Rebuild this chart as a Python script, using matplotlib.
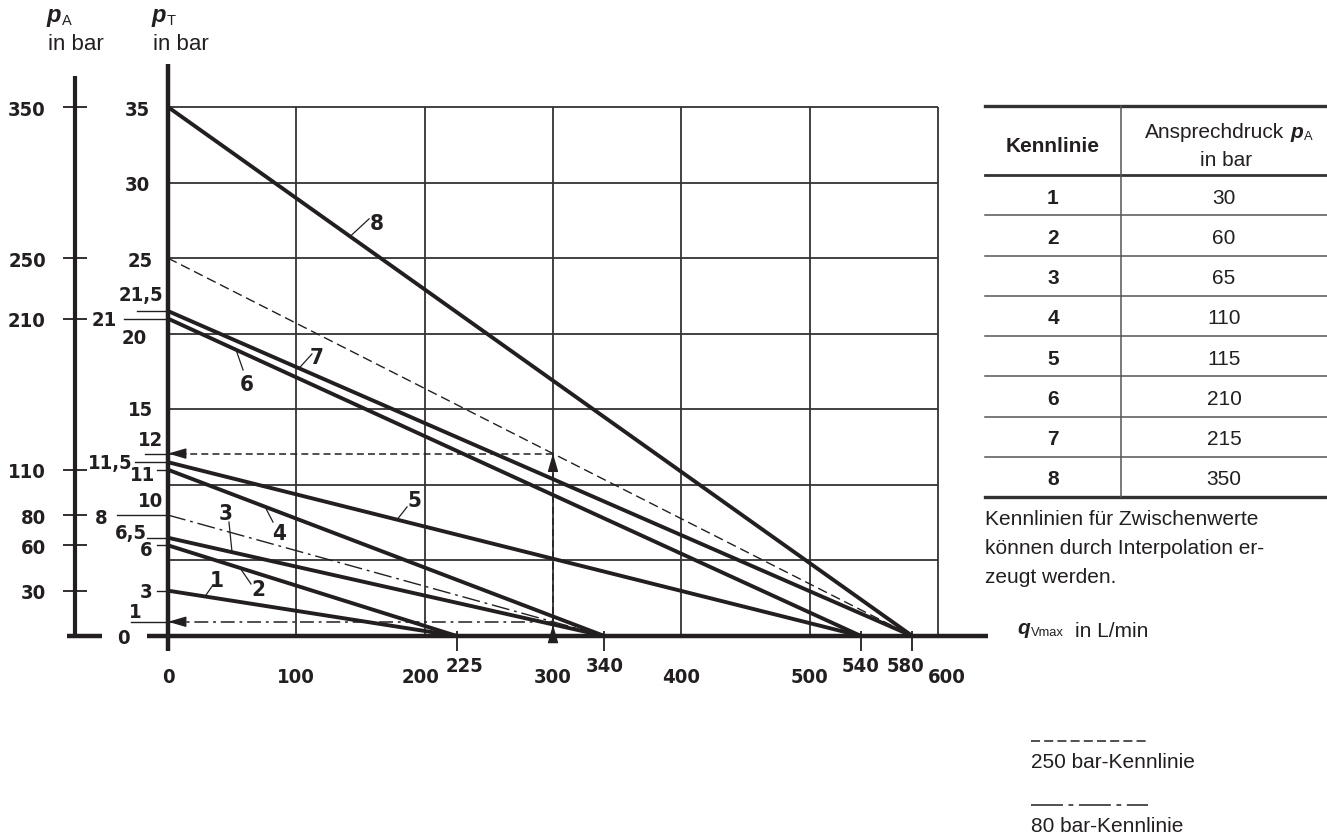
import matplotlib
matplotlib.use("Agg")
import matplotlib.pyplot as plt
import matplotlib.font_manager as fm
from matplotlib.transforms import Affine2D

W, H = 1327, 837
ink = "#231f20"
plt.rcParams["lines.scale_dashes"] = False
plt.rcParams["font.family"] = ["Liberation Sans", "DejaVu Sans"]

# --- data -------------------------------------------------------------
kennlinie = ["1", "2", "3", "4", "5", "6", "7", "8"]
p_A = [30, 60, 65, 110, 115, 210, 215, 350]          # bar
p_T0 = [3, 6, 6.5, 11, 11.5, 21, 21.5, 35]           # p_T at q = 0
q_end = [225, 225, 340, 340, 540, 540, 580, 580]     # q where p_T = 0

aux_pT0 = [25, 8]          # 250 bar / 80 bar lines
aux_qend = [580, 340]
q_example = 300

x_ticks = [0, 100, 200, 300, 400, 500, 600]
x_marks = [225, 340, 540, 580]
pA_ticks = [350, 250, 210, 110, 80, 60, 30]
pT_labels = ["35", "30", "25", "21,5", "21", "20", "15", "12", "11,5",
             "11", "10", "8", "6,5", "6", "3", "1", "0"]

# label anchor positions (right edge x, centre y) in data units
pT_label_xy = [(-14, 35), (-14, 30), (-11.7, 25), (-3.9, 22.7), (-39.7, 21.1),
               (-16.4, 19.85), (-11.7, 15.1), (-3.9, 13.15), (-27.3, 11.6),
               (-10.1, 10.8), (-3.9, 9.1), (-46.8, 8.0), (-16.4, 6.95),
               (-11.7, 5.85), (-12.5, 3.05), (-20.3, 1.75), (-29.6, 0.0)]
pT_leaders = [(21.5, -24.2), (21, -34.3), (11.5, -25.7), (11, -8.6),
              (8, -39.7), (6.5, -16.4), (6, -8.6), (3, -8.6)]
curve_label_xy = [(38.2, 3.84), (70.1, 3.24), (45.2, 8.27), (86.5, 6.95),
                  (191.7, 9.13), (61.6, 16.81), (116.1, 18.6), (162.9, 27.46)]
leader_q0 = [28.8, 56.1, 49.9, 75.6, 178.5, 53.0, 102.1, 141.9]
leader_end = [(35.1, 3.38), (64.7, 3.44), (47.5, 7.54), (81.8, 7.54),
              (186.3, 8.54), (58.5, 17.6), (112.2, 18.66), (156.7, 27.6)]


def cond_font():
    try:
        p = fm.findfont(fm.FontProperties(family="DejaVu Sans", stretch="condensed",
                                          weight="bold"), fallback_to_default=False)
        if "Condensed" in p:
            return dict(family="DejaVu Sans", stretch="condensed", weight="bold")
    except Exception:
        pass
    try:
        fm.findfont(fm.FontProperties(family="Liberation Sans Narrow", weight="bold"),
                    fallback_to_default=False)
        return dict(family="Liberation Sans Narrow", weight="bold")
    except Exception:
        return dict(family="DejaVu Sans", weight="bold")


cf = cond_font()
tick_fs = 14.5

fig = plt.figure(figsize=(W / 100, H / 100), dpi=100)
ax = fig.add_axes([0, 0, 1, 1])
ax.set_xlim((0 - 168) / 1.2833, (W - 168) / 1.2833)
ax.set_ylim((637 - H) / 15.114, 637 / 15.114)
ax.axis("off")
pix = Affine2D().scale(1 / W, -1 / H).translate(0, 1) + fig.transFigure

# grid
ax.vlines(x_ticks[1:], 0, 35, color="#333333", lw=1.3)
ax.hlines(range(5, 40, 5), 0, 600, color="#333333", lw=1.3)

# characteristic lines
for p0, q0 in zip(p_T0, q_end):
    ax.plot([0, q0], [p0, 0], color=ink, lw=2.8, solid_capstyle="butt")
ax.plot([0, aux_qend[0]], [aux_pT0[0], 0], color=ink, lw=1.0, ls=(0, (7, 3.5)))
ax.plot([0, aux_qend[1]], [aux_pT0[1], 0], color=ink, lw=1.0, ls=(0, (13, 3.5, 2, 3.5)))

# curve numbers with leaders
for i, name in enumerate(kennlinie):
    x0 = leader_q0[i]
    y0 = p_T0[i] * (1 - x0 / q_end[i])
    ax.plot([x0, leader_end[i][0]], [y0, leader_end[i][1]], color=ink, lw=0.9)
    ax.text(curve_label_xy[i][0], curve_label_xy[i][1], name, ha="center",
            va="center_baseline", fontsize=16, color=ink, **cf)

# example reading at q = 300
y_hi = aux_pT0[0] * (1 - q_example / aux_qend[0])
y_lo = aux_pT0[1] * (1 - q_example / aux_qend[1])
ax.plot([q_example, q_example], [0, y_hi], color=ink, lw=1.1, ls=(0, (5, 3)))
ax.plot([0, q_example], [y_hi, y_hi], color=ink, lw=1.1, ls=(0, (5, 3)))
ax.plot([0, q_example], [y_lo, y_lo], color=ink, lw=1.1, ls=(0, (10, 3.5, 2, 3.5)))
ax.plot([-17.9, 0], [y_hi, y_hi], color=ink, lw=1.0)
ax.plot([-28.8, 0], [y_lo, y_lo], color=ink, lw=1.0)
arw = dict(arrowstyle="-|>,head_length=1.1,head_width=0.32", color=ink, lw=1.0,
           shrinkA=0, shrinkB=0, mutation_scale=10)
ax.annotate("", xy=(0, y_hi), xytext=(14, y_hi), arrowprops=arw)
ax.annotate("", xy=(0, y_lo), xytext=(14, y_lo), arrowprops=arw)
ax.annotate("", xy=(q_example, y_hi), xytext=(q_example, y_hi - 1.1), arrowprops=arw)
ax.annotate("", xy=(q_example, y_lo - 0.2), xytext=(q_example, 0), arrowprops=arw)

# axes lines
ax.plot([-16.4, 639], [0, 0], color=ink, lw=3.2, solid_capstyle="butt")
ax.plot([-78.7, -51.4], [0, 0], color=ink, lw=3.2, solid_capstyle="butt")
ax.plot([0, 0], [-1.0, 37.86], color=ink, lw=3.2, solid_capstyle="butt")
ax.plot([-72.5, -72.5], [0, 37.06], color=ink, lw=3.0, solid_capstyle="butt")
ax.hlines([v / 10 for v in pA_ticks], -81.8, -63.1, color=ink, lw=1.3)
ax.vlines(x_marks, -1.0, 0.33, color=ink, lw=1.3)

# pT leaders and labels
for yv, xs in pT_leaders:
    ax.plot([xs, 0], [yv, yv], color=ink, lw=1.0)
for lab, (lx, ly) in zip(pT_labels, pT_label_xy):
    ax.text(lx, ly, lab, ha="right", va="center_baseline", fontsize=tick_fs,
            color=ink, **cf)

# pA labels
for v in pA_ticks:
    ax.text(-95.1, v / 10, str(v), ha="right", va="center_baseline", fontsize=tick_fs,
            color=ink, **cf)

# x labels
x_shift = {200: -3, 600: 7, 225: 6, 580: -5.5}
for v in x_ticks:
    ax.text(v + x_shift.get(v, 0), -2.58, str(v), ha="center", va="center_baseline",
            fontsize=tick_fs, color=ink, **cf)
for v in x_marks:
    ax.text(v + x_shift.get(v, 0), -1.79, str(v), ha="center", va="center_baseline",
            fontsize=tick_fs, color=ink, **cf)


def add_sub(t, sub, size):
    ax.annotate(sub, xy=(1, 0), xycoords=t, xytext=(0.5, -0.5), textcoords="offset points",
                fontsize=size * 0.62, va="bottom", color=ink)


def p_sym(x, y, letter, sub, size):
    t = ax.text(x, y, letter, transform=pix, fontsize=size, fontweight="bold",
                fontstyle="italic", va="baseline", color=ink)
    add_sub(t, sub, size)


# axis titles
p_sym(47, 22, "p", "A", 17)
ax.text(48, 50, "in bar", transform=pix, fontsize=16, va="baseline", color=ink)
p_sym(152, 22, "p", "T", 17)
ax.text(153, 50, "in bar", transform=pix, fontsize=16, va="baseline", color=ink)
p_sym(1017, 634, "q", "Vmax", 15)
ax.text(1075, 637, "in L/min", transform=pix, fontsize=15, va="baseline", color=ink)

# table
tx0, tx1, txm = 985, 1327, 1121
top, head, row_h = 107, 176, (498 - 176) / 8
ax.plot([tx0, tx1], [top, top], transform=pix, color="#333333", lw=2.4)
ax.plot([tx0, tx1], [head, head], transform=pix, color="#333333", lw=2.0)
ax.plot([tx0, tx1], [498, 498], transform=pix, color="#333333", lw=2.4)
for k in range(1, 8):
    yk = head + row_h * k
    ax.plot([tx0, tx1], [yk, yk], transform=pix, color="#555555", lw=1.1)
ax.plot([txm, txm], [top, 498], transform=pix, color="#555555", lw=1.1)
ax.text(1053, 144, "Kennlinie", transform=pix, ha="center", va="center_baseline",
        fontsize=15, fontweight="bold", color=ink)
t_an = ax.text(1145, 138, "Ansprechdruck", transform=pix, ha="left", va="baseline",
               fontsize=15, color=ink)
t_p = ax.annotate("p", xy=(1, 0), xycoords=t_an, xytext=(4.5, 0), textcoords="offset points",
                  fontsize=15, fontweight="bold", fontstyle="italic", va="bottom", color=ink)
add_sub(t_p, "A", 15)
ax.text(1226, 158, "in bar", transform=pix, ha="center", va="center_baseline",
        fontsize=15, color=ink)
for i, (name, v) in enumerate(zip(kennlinie, p_A)):
    yc = head + row_h * (i + 0.5)
    ax.text(1053, yc, name, transform=pix, ha="center", va="center_baseline",
            fontsize=15, fontweight="bold", color=ink)
    ax.text(1224, yc, str(v), transform=pix, ha="center", va="center_baseline",
            fontsize=15, color=ink)

for yy, line in zip([518, 547, 576], ["Kennlinien für Zwischenwerte",
                                      "können durch Interpolation er-",
                                      "zeugt werden."]):
    ax.text(985, yy, line, transform=pix, ha="left", va="center_baseline",
            fontsize=15, color=ink)

# line legend
ax.plot([1031, 1148], [742, 742], transform=pix, color=ink, lw=1.1, ls=(0, (6.5, 3)))
ax.text(1031, 761, "250 bar-Kennlinie", transform=pix, va="center_baseline",
        fontsize=15, color=ink)
ax.plot([1031, 1148], [806, 806], transform=pix, color=ink, lw=1.1,
        ls=(0, (23, 4, 3.5, 4)))
ax.text(1031, 825, "80 bar-Kennlinie", transform=pix, va="center_baseline",
        fontsize=15, color=ink)

fig.savefig("out.png", dpi=100)
